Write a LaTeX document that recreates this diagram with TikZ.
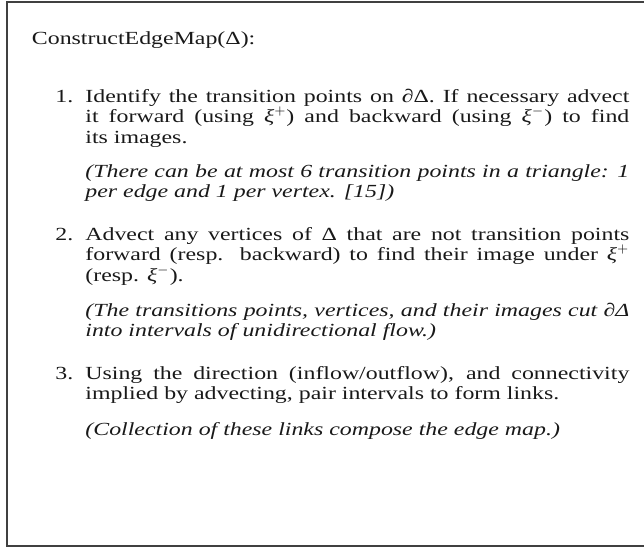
\documentclass[tikz,border=0pt]{standalone}
\usepackage{fontspec}
\setmainfont[FakeStretch=1.29]{Liberation Serif}

\newcommand{\xip}{\textit{ξ}$^{+}$}
\newcommand{\xim}{\textit{ξ}$^{-}$}

\begin{document}
\begin{tikzpicture}[x=0.5pt, y=-0.5pt,
    txt/.style={anchor=base west, inner sep=0pt, text=black!90, font=\fontsize{9.25}{10.3}\selectfont},
    stepnum/.style={txt},
    stepbody/.style={txt, text width=272pt, align=justify},
    stepnote/.style={stepbody, font=\fontsize{9.25}{10.3}\selectfont\itshape}
  ]
  \useasboundingbox (0,0) rectangle (644,548);
  % frame, open on the right
  \draw[line width=1pt, black!75] (644,2) -- (6.5,2) -- (6.5,545.5) -- (644,545.5);

  \node[txt] (title) at (31.5,44) {ConstructEdgeMap(Δ):};

  \node[stepnum] (num1) at (55,102) {1.};
  \node[stepbody] (body1) at (85,102) {Identify the transition points on ∂Δ. If necessary advect\linebreak
    it forward (using \xip) and backward (using \xim) to find\linebreak its images.};
  \node[stepnote] (note1) at (85,177) {(There can be at most 6 transition points in a triangle: 1\linebreak
    per edge and 1 per vertex. [15])};

  \node[stepnum] (num2) at (55,240) {2.};
  \node[stepbody] (body2) at (85,240) {Advect any vertices of Δ that are not transition points\linebreak
    forward (resp. backward) to find their image under \xip\linebreak (resp. \xim).};
  \node[stepnote] (note2) at (85,316) {(The transitions points, vertices, and their images cut ∂Δ\linebreak
    into intervals of unidirectional flow.)};

  \node[stepnum] (num3) at (55,379) {3.};
  \node[stepbody] (body3) at (85,379) {Using the direction (inflow/outflow), and connectivity\linebreak
    implied by advecting, pair intervals to form links.};
  \node[stepnote] (note3) at (85,435) {(Collection of these links compose the edge map.)};
\end{tikzpicture}
\end{document}
